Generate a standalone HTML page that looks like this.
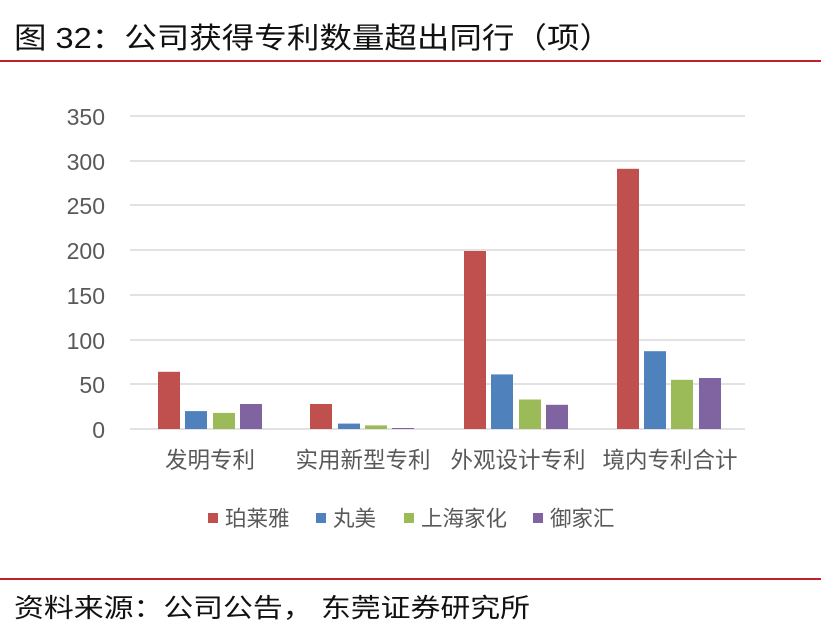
<!DOCTYPE html>
<html><head><meta charset="utf-8"><style>
body{margin:0;width:821px;height:632px;background:#fff;overflow:hidden;font-family:"Liberation Sans","Noto Sans CJK SC",sans-serif;}
</style></head><body>
<svg width="821" height="632" xmlns="http://www.w3.org/2000/svg" font-family="Liberation Sans, Noto Sans CJK SC, sans-serif">
<text x="14" y="48" font-size="29" fill="#111" textLength="598" lengthAdjust="spacingAndGlyphs">图 32：公司获得专利数量超出同行（项）</text>
<rect x="0" y="60" width="821" height="2" fill="#c0202a"/>
<g stroke="#d9d9d9" stroke-width="1.5">
<line x1="130" x2="745" y1="116" y2="116"/><line x1="130" x2="745" y1="161" y2="161"/>
<line x1="130" x2="745" y1="205" y2="205"/><line x1="130" x2="745" y1="250" y2="250"/>
<line x1="130" x2="745" y1="295" y2="295"/><line x1="130" x2="745" y1="340" y2="340"/>
<line x1="130" x2="745" y1="384" y2="384"/><line x1="130" x2="745" y1="429" y2="429"/>
</g>
<g font-size="23" fill="#595959" text-anchor="end">
<text x="105" y="125">350</text><text x="105" y="170">300</text><text x="105" y="214">250</text>
<text x="105" y="259">200</text><text x="105" y="304">150</text><text x="105" y="349">100</text>
<text x="105" y="393">50</text><text x="105" y="438">0</text>
</g>
<g>
<rect x="158" y="371.8" width="22" height="57.2" fill="#c0504d"/>
<rect x="185" y="411.1" width="22" height="17.9" fill="#4f81bd"/>
<rect x="213" y="412.9" width="22" height="16.1" fill="#9bbb59"/>
<rect x="240" y="404" width="22" height="25" fill="#8064a2"/>
<rect x="310" y="404" width="22" height="25" fill="#c0504d"/>
<rect x="338" y="423.6" width="22" height="5.4" fill="#4f81bd"/>
<rect x="365" y="425.4" width="22" height="3.6" fill="#9bbb59"/>
<rect x="392" y="428" width="22" height="1" fill="#8064a2"/>
<rect x="464" y="251" width="22" height="178" fill="#c0504d"/>
<rect x="491" y="374.4" width="22" height="54.6" fill="#4f81bd"/>
<rect x="519" y="399.5" width="22" height="29.5" fill="#9bbb59"/>
<rect x="546" y="404.8" width="22" height="24.2" fill="#8064a2"/>
<rect x="617" y="168.8" width="22" height="260.2" fill="#c0504d"/>
<rect x="644" y="351.2" width="22" height="77.8" fill="#4f81bd"/>
<rect x="671" y="379.8" width="22" height="49.2" fill="#9bbb59"/>
<rect x="699" y="378" width="22" height="51" fill="#8064a2"/>
</g>
<g font-size="22.5" fill="#595959" text-anchor="middle">
<text x="210" y="468">发明专利</text><text x="363" y="468">实用新型专利</text>
<text x="518" y="468">外观设计专利</text><text x="670" y="468">境内专利合计</text>
</g>
<g font-size="21.5" fill="#595959">
<rect x="208" y="513" width="10" height="10" fill="#c0504d"/><text x="225" y="526">珀莱雅</text>
<rect x="316" y="513" width="10" height="10" fill="#4f81bd"/><text x="333" y="526">丸美</text>
<rect x="404" y="513" width="10" height="10" fill="#9bbb59"/><text x="421" y="526">上海家化</text>
<rect x="533" y="513" width="10" height="10" fill="#8064a2"/><text x="550" y="526">御家汇</text>
</g>
<rect x="0" y="578" width="821" height="2" fill="#c0202a"/>
<text x="14" y="617" font-size="26" fill="#111" textLength="516" lengthAdjust="spacingAndGlyphs">资料来源：公司公告， 东莞证券研究所</text>
</svg>
</body></html>
